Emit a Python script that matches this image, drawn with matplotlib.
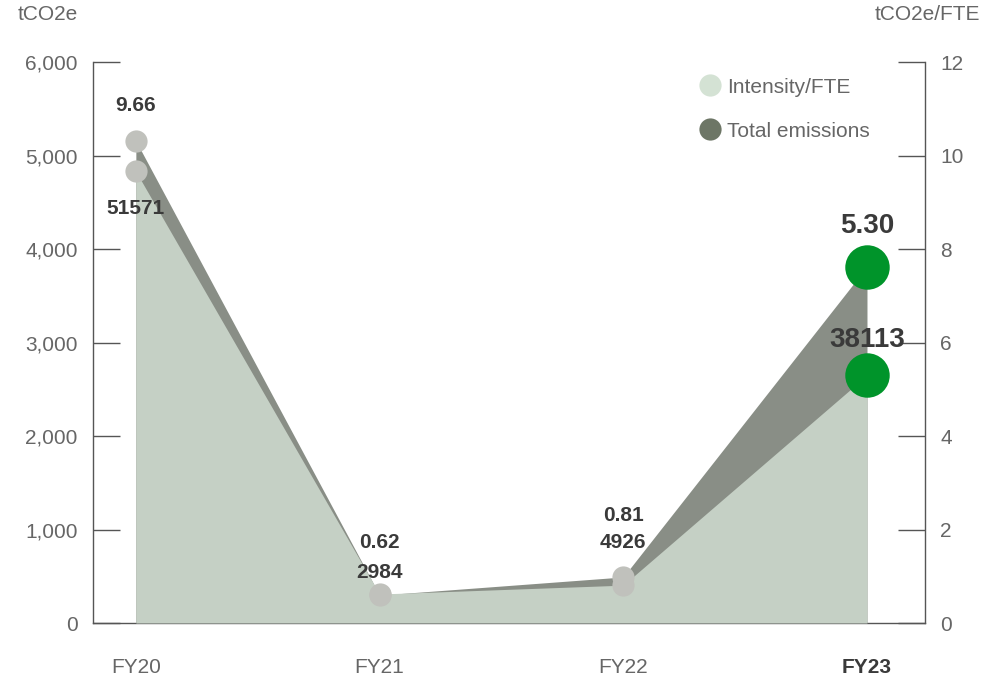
import matplotlib
matplotlib.use("Agg")
import matplotlib.pyplot as plt
from matplotlib.lines import Line2D

plt.rcParams['font.family'] = ['Liberation Sans', 'DejaVu Sans']

# data
years = ["FY20", "FY21", "FY22", "FY23"]
emissions = [51571, 2984, 4926, 38113]      # tCO2e (drawn at 1/10 on the left scale)
intensity = [9.66, 0.62, 0.81, 5.30]        # tCO2e/FTE
left_ticks = [0, 1000, 2000, 3000, 4000, 5000, 6000]
right_ticks = [0, 2, 4, 6, 8, 10, 12]

colors = {
    'dark_area': '#898e86',
    'light_area': '#c5d0c5',
    'point': '#c0c1bc',
    'latest': '#00942a',
    'legend_light': '#d4e2d4',
    'legend_dark': '#6d7666',
    'tick': '#666666',
    'label': '#3a3a3a',
    'axis': '#555555',
}

x = list(range(len(years)))
emis_scaled = [v / 10 for v in emissions]
ratio = 6000 / 12   # left units per right unit
emis_right = [v / ratio for v in emis_scaled]

fig = plt.figure(figsize=(10.04, 6.8), dpi=100)
ax = fig.add_axes([0.0926, 0.0838, 0.8287, 0.825])
ax2 = ax.twinx()

ax.fill_between(x, emis_scaled, 0, color=colors['dark_area'], linewidth=0, zorder=1)
ax2.fill_between(x, intensity, 0, color=colors['light_area'], linewidth=0, zorder=1)

# markers (all on the front axes so they sit above both areas)
ax2.plot(x[:-1], intensity[:-1], 'o', ms=16, color=colors['point'], mec='none', zorder=3)
ax2.plot(x[:-1], emis_right[:-1], 'o', ms=16, color=colors['point'], mec='none', zorder=3)
ax2.plot(x[-1], intensity[-1], 'o', ms=32, color=colors['latest'], mec='none', zorder=4, clip_on=False)
ax2.plot(x[-1], emis_right[-1], 'o', ms=32, color=colors['latest'], mec='none', zorder=4, clip_on=False)

# value labels (right-axis units)
lbl = dict(ha='center', va='center', fontweight='bold', color=colors['label'], zorder=5)
ax2.text(0, 11.08, f"{intensity[0]:.2f}", fontsize=15, **lbl)
ax2.text(0, 8.86, f"{emissions[0]}", fontsize=15, **lbl)
ax2.text(1, 1.73, f"{intensity[1]:.2f}", fontsize=15, **lbl)
ax2.text(1, 1.09, f"{emissions[1]}", fontsize=15, **lbl)
ax2.text(2, 2.31, f"{intensity[2]:.2f}", fontsize=15, **lbl)
ax2.text(2, 1.73, f"{emissions[2]}", fontsize=15, **lbl)
ax2.text(3, 8.49, f"{intensity[3]:.2f}", fontsize=20, **lbl)
ax2.text(3, 6.05, f"{emissions[3]}", fontsize=20, **lbl)

# axes styling
ax.set_xlim(-0.176, 3.238)
ax.set_ylim(0, 6000)
ax2.set_ylim(0, 12)
ax.set_yticks(left_ticks)
ax.set_yticklabels([f"{v:,}" for v in left_ticks])
ax2.set_yticks(right_ticks)
ax.set_xticks(x)
ax.set_xticklabels(years)

for a in (ax, ax2):
    a.spines['top'].set_visible(False)
    for s in a.spines.values():
        s.set_color(colors['axis'])
        s.set_linewidth(1.0)
ax.spines['right'].set_visible(False)
ax2.spines['left'].set_visible(False)
ax2.spines['bottom'].set_visible(False)

ax.tick_params(axis='y', direction='in', length=19.5, width=1, color=colors['axis'],
               labelsize=15, labelcolor=colors['tick'], pad=11)
ax2.tick_params(axis='y', direction='in', length=19.5, width=1, color=colors['axis'],
                labelsize=15, labelcolor=colors['tick'], pad=11)
ax.tick_params(axis='x', length=0, labelsize=15, labelcolor=colors['tick'], pad=25)
xl = ax.get_xticklabels()
xl[-1].set_fontweight('bold')
xl[-1].set_color(colors['label'])

fig.text(18 / 1004, 1 - 15 / 680, "tCO2e", fontsize=15, color=colors['tick'], va='center', ha='left')
fig.text(980 / 1004, 1 - 15 / 680, "tCO2e/FTE", fontsize=15, color=colors['tick'], va='center', ha='right')

handles = [
    Line2D([], [], marker='o', ls='none', ms=16, color=colors['legend_light'], mec='none', label='Intensity/FTE'),
    Line2D([], [], marker='o', ls='none', ms=16, color=colors['legend_dark'], mec='none', label='Total emissions'),
]
leg = fig.legend(handles=handles, loc='upper left', bbox_to_anchor=(679 / 1004, 1 - 59 / 680),
                 frameon=False, fontsize=15, labelspacing=1.2, handletextpad=0.2, handlelength=1.2)
for t in leg.get_texts():
    t.set_color(colors['tick'])

fig.savefig("out.png", dpi=100)
